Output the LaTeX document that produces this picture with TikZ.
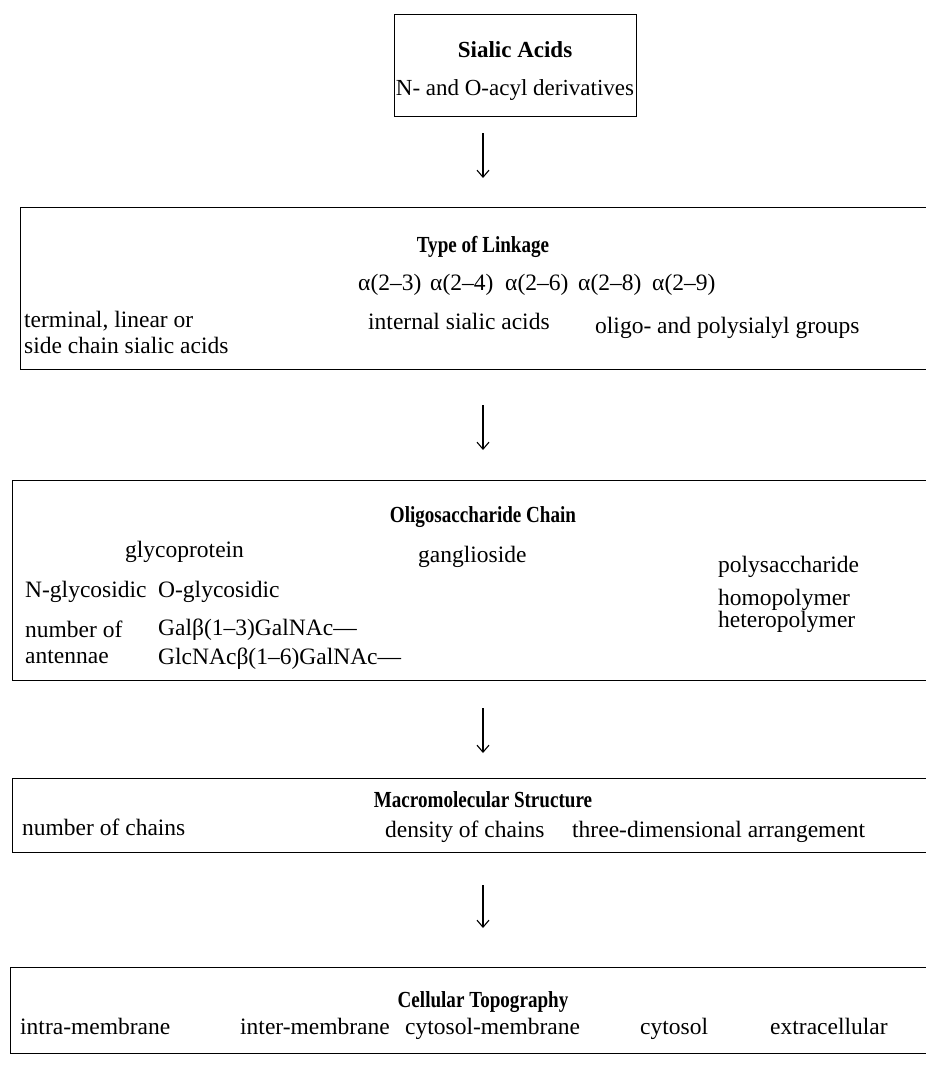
\documentclass[tikz,border=0pt]{standalone}
\usepackage{fontspec}
\setmainfont{Liberation Serif}
\newfontfamily\headfont[FakeStretch=0.83]{Liberation Serif}
\usetikzlibrary{arrows.meta}
\begin{document}
\begin{tikzpicture}[x=1pt,y=-1pt,
  frame/.style={draw, line width=1.4pt, inner sep=0pt, anchor=north west},
  txt/.style={inner sep=0pt, anchor=base west, font=\fontsize{23.5}{27}\selectfont},
  head/.style={inner sep=0pt, anchor=base, font=\headfont\fontsize{23}{27}\selectfont\bfseries},
  flow/.style={line width=1.1pt, -{Straight Barb[length=7pt,width=12pt]}}]
\useasboundingbox (0,0) rectangle (926,1084);
\clip (0,0) rectangle (926,1084);

% frames (the lower four run off the right edge)
\node[frame, minimum width=242pt, minimum height=102pt] (b1) at (394,14) {};
\node[frame, minimum width=930pt, minimum height=162pt] (b2) at (20,207) {};
\node[frame, minimum width=940pt, minimum height=200pt] (b3) at (12,480) {};
\node[frame, minimum width=940pt, minimum height=74pt] (b4) at (12,778) {};
\node[frame, minimum width=940pt, minimum height=86pt] (b5) at (10,967) {};

% level 1
\node[head, font=\fontsize{23}{27}\selectfont\bfseries] (t1) at (515,57) {Sialic Acids};
\node[txt, anchor=base, font=\fontsize{23}{27}\selectfont] (s1) at (515,95) {N- and O-acyl derivatives};

% level 2
\node[head] (t2) at (483,252) {Type of Linkage};
\node[txt] (l23) at (358,290) {α(2–3)};
\node[txt] (l24) at (430,290) {α(2–4)};
\node[txt] (l26) at (505,290) {α(2–6)};
\node[txt] (l28) at (578,290) {α(2–8)};
\node[txt] (l29) at (652,290) {α(2–9)};
\node[txt] (term1) at (24,327) {terminal, linear or};
\node[txt] (term2) at (24,353) {side chain sialic acids};
\node[txt] (intl) at (368,329) {internal sialic acids};
\node[txt] (poly) at (595,333) {oligo- and polysialyl groups};

% level 3
\node[head] (t3) at (483,522) {Oligosaccharide Chain};
\node[txt] (gp) at (125,557) {glycoprotein};
\node[txt] (gg) at (418,562) {ganglioside};
\node[txt] (ps) at (718,572) {polysaccharide};
\node[txt] (ng) at (25,597) {N-glycosidic};
\node[txt] (og) at (158,597) {O-glycosidic};
\node[txt] (homo) at (718,605) {homopolymer};
\node[txt] (hetero) at (718,627) {heteropolymer};
\node[txt] (ant1) at (25,637) {number of};
\node[txt] (ant2) at (25,663) {antennae};
\node[txt] (gal) at (158,635) {Galβ(1–3)GalNAc—};
\node[txt] (glc) at (158,664) {GlcNAcβ(1–6)GalNAc—};

% level 4
\node[head] (t4) at (483,807) {Macromolecular Structure};
\node[txt] (nch) at (22,835) {number of chains};
\node[txt] (dch) at (385,837) {density of chains};
\node[txt] (tda) at (572,837) {three-dimensional arrangement};

% level 5
\node[head] (t5) at (483,1007) {Cellular Topography};
\node[txt] (intra) at (20,1034) {intra-membrane};
\node[txt] (inter) at (240,1034) {inter-membrane};
\node[txt] (cm) at (405,1034) {cytosol-membrane};
\node[txt] (cy) at (640,1034) {cytosol};
\node[txt] (ex) at (770,1034) {extracellular};

% arrows between the levels
\coordinate (a1s) at (483,133); \coordinate (a1e) at (483,178);
\coordinate (a2s) at (483,405); \coordinate (a2e) at (483,450);
\coordinate (a3s) at (483,708); \coordinate (a3e) at (483,753);
\coordinate (a4s) at (483,885); \coordinate (a4e) at (483,928);
\draw[flow] (a1s) -- (a1e);
\draw[flow] (a2s) -- (a2e);
\draw[flow] (a3s) -- (a3e);
\draw[flow] (a4s) -- (a4e);
\end{tikzpicture}
\end{document}
